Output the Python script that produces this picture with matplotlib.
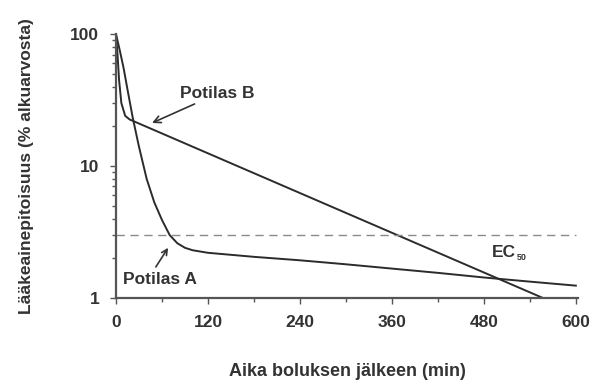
import matplotlib.pyplot as plt
from matplotlib.ticker import FixedLocator, NullFormatter

plt.rcParams['font.family'] = ['Liberation Sans', 'DejaVu Sans']

# Potilas A (time in min, % of initial concentration)
timeA = [0, 5, 10, 15, 22, 30, 40, 50, 60, 70, 80, 90, 100, 120, 180, 240, 300, 360, 420, 480, 540, 600]
concA = [100, 75, 55, 38, 23, 14, 8.0, 5.3, 3.9, 3.0, 2.6, 2.4, 2.3, 2.2, 2.05, 1.93, 1.8, 1.67, 1.55, 1.43, 1.33, 1.24]

# Potilas B
timeB = [0, 2, 4, 7, 12, 18, 557]
concB = [100, 70, 45, 30, 24, 22.5, 1.0]

ec50 = 3.0
xticks = [0, 120, 240, 360, 480, 600]
yticks = [1, 10, 100]

textcol = '#333333'
linecol = '#2b2b2b'

fig = plt.figure(figsize=(6.01, 3.83), dpi=100)
ax = fig.add_axes([0.193, 0.222, 0.769, 0.689])

ax.plot(timeA, concA, color=linecol, lw=1.4)
ax.plot(timeB, concB, color=linecol, lw=1.4)
ax.axhline(ec50, color='#8a8a8a', lw=1.0, ls=(0, (6, 4)), xmax=0.995)

ax.set_yscale('log')
ax.set_xlim(0, 603)
ax.set_ylim(1, 100)

ax.set_xticks(xticks)
ax.set_xticklabels([str(t) for t in xticks])
ax.xaxis.set_minor_locator(FixedLocator([60, 180, 300, 420, 540]))
ax.set_yticks(yticks)
ax.set_yticklabels(['1', '10', '100'])
ax.yaxis.set_minor_formatter(NullFormatter())

for s in ['top', 'right']:
    ax.spines[s].set_visible(False)
for s in ['left', 'bottom']:
    ax.spines[s].set_color('#555555')
    ax.spines[s].set_linewidth(1.6)

ax.tick_params(which='major', direction='out', length=4, width=1.0, color='#555555',
               labelsize=12.5, labelcolor=textcol, pad=8)
ax.tick_params(which='minor', direction='out', length=3, width=1.0, color='#555555')
for lab in ax.get_xticklabels() + ax.get_yticklabels():
    lab.set_fontweight('bold')

ax.set_xlabel('Aika boluksen jälkeen (min)', fontsize=13, color=textcol, labelpad=24,
              fontweight='bold')
ax.set_ylabel('Lääkeainepitoisuus (% alkuarvosta)', fontsize=12.5, color=textcol, labelpad=26,
              fontweight='bold')

ax.annotate('Potilas B', xy=(47, 21.2), xytext=(84, 31), fontsize=12.5, color=textcol,
            fontweight='bold', ha='left', va='bottom',
            arrowprops=dict(arrowstyle='->', color=textcol, lw=1.2, shrinkA=0, shrinkB=0))
ax.annotate('', xy=(68, 2.4), xytext=(52, 1.72),
            arrowprops=dict(arrowstyle='->', color=textcol, lw=1.2, shrinkA=0, shrinkB=0))
ax.text(9, 1.39, 'Potilas A', fontsize=12.5, color=textcol, ha='left', va='center',
        fontweight='bold')
ax.text(490, 2.2, 'EC', fontsize=12.5, color=textcol, ha='left', va='center', fontweight='bold')
ax.text(523, 2.02, '50', fontsize=6.5, color=textcol, ha='left', va='center', fontweight='bold')

fig.savefig('out.png', dpi=100)
